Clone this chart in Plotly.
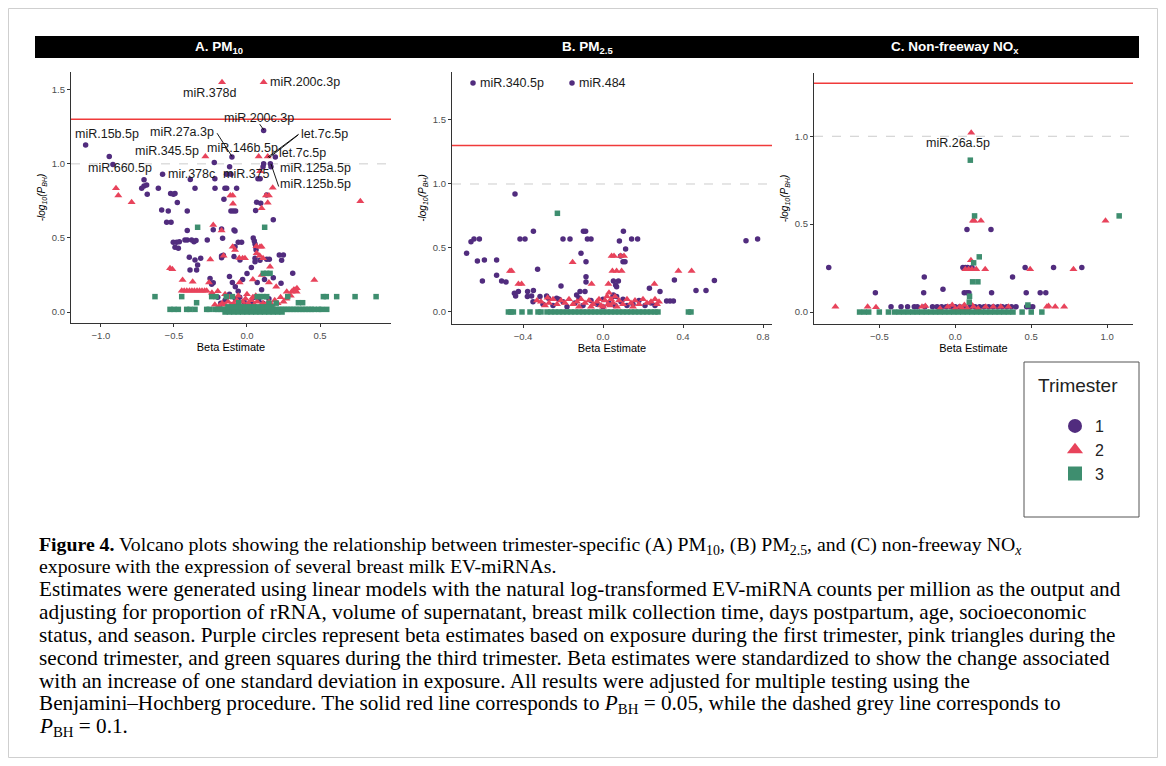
import plotly.graph_objects as go
import math

# ---------------- thresholds ----------------
P_SIG = 0.05
P_SUGG = 0.1

# ---------------- data: (beta, -log10 P_BH) ----------------
A1 = [(0.114,1.225),(-1.105,1.128),(-0.943,1.05),(-0.103,1.047),(-0.224,1.009),(0.194,1.047),
      (0.114,1.0),(0.16,1.0),(0.11,0.98),(0.164,0.98),(-0.119,0.98),(-0.918,0.995),
      (-0.578,0.93),(-0.388,0.894),(-0.22,0.90),(-0.14,0.93),(-0.11,0.93),(0.075,0.899),(0.09,0.899),
      (-0.705,0.892),(-0.705,0.851),(-0.687,0.858),(-0.721,0.836),(-0.683,0.795),(-0.607,0.836),
      (-0.523,0.80),(-0.504,0.795),(-0.493,0.80),(-0.477,0.739),(-0.409,0.682),(-0.584,0.689),(-0.539,0.682),
      (-0.55,0.606),(-0.52,0.606),(-0.356,0.836),(-0.219,0.836),(-0.151,0.836),(-0.139,0.836),(-0.071,0.836),
      (-0.158,0.761),(-0.11,0.682),(-0.094,0.682),(-0.078,0.682),(0.066,0.741),(0.094,0.734),(0.059,0.685),
      (0.135,0.79),(0.18,0.622),
      (-0.409,0.55),(-0.505,0.471),(-0.482,0.471),(-0.493,0.437),(-0.463,0.475),(-0.425,0.486),(-0.409,0.486),
      (-0.379,0.486),(-0.363,0.475),(-0.349,0.482),(-0.47,0.43),
      (-0.272,0.486),(-0.231,0.556),(-0.167,0.498),(-0.082,0.547),(-0.174,0.561),(-0.089,0.554),(-0.06,0.471),
      (-0.037,0.471),(-0.082,0.441),(0.043,0.50),(0.05,0.48),(0.055,0.46),(0.06,0.44),(0.062,0.42),
      (-0.395,0.369),(-0.356,0.351),(-0.317,0.363),(-0.338,0.318),(-0.345,0.284),(-0.39,0.284),
      (-0.174,0.378),(-0.089,0.374),(-0.048,0.351),(0.055,0.363),(0.055,0.34),(0.089,0.35),(0.135,0.356),
      (0.153,0.356),(0.221,0.385),(0.249,0.385),(0.237,0.35),
      (-0.253,0.227),(-0.231,0.198),(-0.242,0.187),(-0.162,0.383),(-0.174,0.367),(-0.12,0.24),(-0.1,0.2),
      (-0.08,0.17),(0.313,0.261),(0.18,0.232),(0.233,0.194),(0.03,0.3),(0.0,0.26),(-0.03,0.22),(0.07,0.2),
      (0.1,0.15),(0.12,0.22),
      (-0.2,0.1),(-0.15,0.08),(-0.12,0.12),(-0.08,0.09),(-0.05,0.1),(-0.02,0.07),(0.02,0.06),(0.05,0.1),
      (0.08,0.08),(0.11,0.06),(0.15,0.09),(-0.18,0.06),(-0.1,0.05),(0.0,0.04),(0.04,0.05),(-0.06,0.14)]

A2 = [(-0.171,1.55),(0.114,1.55),(-0.285,1.05),(0.08,1.05),(0.142,1.05),(0.09,0.95),
      (-0.897,0.836),(-0.881,0.786),(-0.79,0.741),(0.776,0.748),
      (-0.114,0.786),(-0.098,0.786),(-0.096,0.73),(0.13,0.786),(0.15,0.786),(0.142,0.737),(0.1,0.70),(0.176,0.838),
      (-0.231,0.588),(-0.174,0.55),
      (-0.098,0.441),(-0.082,0.419),(-0.03,0.363),(-0.014,0.363),(-0.16,0.38),(-0.053,0.365),(-0.251,0.354),
      (0.089,0.441),(0.1,0.441),(0.066,0.396),(0.11,0.363),(0.158,0.306),(0.087,0.38),(0.064,0.444),
      (-0.527,0.295),(-0.511,0.288),(-0.441,0.216),(-0.372,0.205),
      (-0.447,0.144),(-0.43,0.144),(-0.412,0.144),(-0.394,0.144),(-0.377,0.144),(-0.36,0.144),(-0.342,0.144),
      (-0.325,0.144),(-0.308,0.144),(-0.29,0.144),(-0.276,0.144),(-0.24,0.13),(-0.2,0.14),(-0.15,0.12),
      (0.272,0.137),(0.306,0.137),(0.329,0.15),(0.34,0.137),(0.461,0.216),(0.32,0.15),(0.342,0.16),
      (-0.26,0.2),(-0.05,0.2),(0.04,0.22),(0.1,0.25),(0.15,0.2),(0.2,0.17),
      (-0.22,0.05),(-0.19,0.04),(-0.17,0.06),(-0.15,0.05),(-0.13,0.07),(-0.11,0.05),(-0.09,0.06),(-0.07,0.08),
      (-0.05,0.05),(-0.03,0.07),(-0.01,0.09),(0.01,0.06),(0.03,0.08),(0.05,0.05),(0.07,0.07),(0.09,0.04),
      (0.11,0.06),(0.13,0.05),(0.15,0.07),(0.17,0.05),(0.19,0.08),(0.21,0.06),(0.23,0.1),(0.25,0.07),
      (0.27,0.09),(0.3,0.11),(-0.06,0.11),(0.0,0.12),(0.06,0.11),(-0.12,0.1),(0.12,0.1),(-0.02,0.04),
      (0.02,0.03),(0.04,0.1)]

A3 = [(-0.338,0.572),(0.121,0.572),
      (-0.63,0.104),(-0.447,0.104),(-0.242,0.104),(-0.212,0.104),(-0.142,0.104),(0.07,0.104),(0.089,0.104),
      (0.112,0.104),(0.135,0.104),(0.279,0.104),(0.523,0.104),(0.543,0.104),(0.614,0.104),(0.74,0.104),
      (0.884,0.104),(-0.1,0.104),
      (0.112,0.261),(0.135,0.261),(0.158,0.261),
      (-0.345,0.063),(-0.057,0.063),(0.352,0.063),(0.381,0.063),(0.15,0.06),(0.2,0.06),
      (-0.527,0.018),(-0.5,0.018),(-0.47,0.018),(-0.413,0.018),(-0.39,0.018),(-0.356,0.018),(-0.276,0.018),
      (-0.258,0.018),(-0.22,0.018),(-0.2,0.018),(-0.18,0.018),(-0.16,0.018),(-0.14,0.018),(-0.12,0.018),
      (-0.1,0.018),(-0.08,0.018),(-0.06,0.018),(-0.04,0.018),(-0.02,0.018),(0.0,0.018),(0.02,0.018),
      (0.04,0.018),(0.06,0.018),(0.08,0.018),(0.1,0.018),(0.12,0.018),(0.14,0.018),(0.16,0.018),(0.18,0.018),
      (0.2,0.018),(0.22,0.018),(0.24,0.018),(0.26,0.018),(0.28,0.018),(0.3,0.018),(0.32,0.018),(0.34,0.018),
      (0.36,0.018),(0.38,0.018),(0.4,0.018),(0.42,0.018),(0.44,0.018),(0.46,0.018),(0.49,0.018),(0.51,0.018),
      (0.546,0.018),
      (-0.15,0.0),(-0.12,0.0),(-0.09,0.0),(-0.06,0.0),(-0.03,0.0),(0.0,0.0),(0.03,0.0),(0.06,0.0),(0.09,0.0),
      (0.12,0.0),(0.15,0.0),(0.18,0.0),(0.21,0.0),(0.24,0.0),
      (-0.13,0.035),(-0.1,0.035),(-0.07,0.035),(-0.04,0.035),(-0.01,0.035),(0.02,0.035),(0.05,0.035),
      (0.08,0.035),(0.11,0.035),(0.14,0.035),(0.17,0.035)]

B1 = [(-0.65,1.79),(-0.155,1.79),
      (-0.44,0.922),(-0.682,0.458),(-0.66,0.549),(-0.645,0.570),(-0.618,0.570),(-0.628,0.398),(-0.593,0.406),
      (-0.603,0.242),(-0.532,0.406),(-0.532,0.286),(-0.507,0.242),(-0.485,0.234),(-0.415,0.570),(-0.39,0.570),
      (-0.348,0.63),(-0.327,0.333),
      (-0.443,0.146),(-0.437,0.125),(-0.423,0.159),(-0.377,0.159),(-0.348,0.167),(-0.378,0.12),(-0.357,0.125),
      (-0.315,0.12),(-0.282,0.125),(-0.273,0.107),(-0.232,0.107),
      (-0.21,0.203),(-0.2,0.570),(-0.165,0.570),(-0.11,0.458),(-0.098,0.63),(-0.087,0.63),(-0.085,0.393),
      (-0.085,0.276),(-0.085,0.234),(-0.078,0.570),(-0.06,0.570),(-0.115,0.159),(-0.09,0.159),(-0.132,0.133),
      (0.102,0.63),(0.082,0.555),(0.113,0.492),(0.143,0.570),(0.173,0.570),(0.088,0.438),(0.1,0.393),(0.11,0.393),
      (0.052,0.242),(0.077,0.242),(0.063,0.211),(0.068,0.198),(0.052,0.133),(0.068,0.12),
      (0.232,0.185),(0.285,0.16),(0.318,0.086),(0.335,0.086),(0.352,0.086),(0.357,0.25),(0.465,0.167),
      (0.515,0.167),(0.557,0.245),(0.715,0.557),(0.773,0.570),
      (-0.3,0.06),(-0.25,0.05),(-0.2,0.08),(-0.18,0.04),(-0.14,0.07),(-0.1,0.05),(-0.06,0.09),(-0.03,0.06),
      (0.0,0.04),(0.03,0.07),(0.06,0.05),(0.09,0.08),(0.12,0.05),(0.15,0.06),(0.18,0.09),(0.21,0.05),
      (0.24,0.07),(0.26,0.05),(-0.35,0.08),(-0.22,0.1),(0.05,0.12),(-0.12,0.11),(0.1,0.1),(0.0,0.1)]

B2 = [(-0.465,0.32),(-0.457,0.32),(-0.423,0.219),(-0.407,0.219),(-0.277,0.112),(-0.152,0.388),(-0.057,0.219),
      (0.027,0.219),(0.043,0.438),(0.055,0.438),(0.088,0.438),(0.105,0.438),(0.047,0.32),(0.068,0.32),
      (0.093,0.32),(0.257,0.219),(0.377,0.32),(0.443,0.32),
      (-0.33,0.09),(-0.31,0.08),(-0.27,0.07),(-0.25,0.1),(-0.23,0.06),(-0.21,0.09),(-0.19,0.07),(-0.17,0.1),
      (-0.15,0.06),(-0.13,0.08),(-0.11,0.1),(-0.09,0.07),(-0.07,0.09),(-0.05,0.06),(-0.03,0.08),(-0.01,0.05),
      (0.01,0.09),(0.02,0.12),(0.03,0.15),(0.04,0.1),(0.05,0.07),(0.06,0.12),(0.08,0.09),(0.1,0.06),
      (0.12,0.1),(0.14,0.07),(0.16,0.09),(0.18,0.06),(0.2,0.1),(0.22,0.07),(0.24,0.08),(0.26,0.1),
      (0.27,0.06),(0.28,0.08),(-0.29,0.05),(-0.06,0.04),(0.0,0.04),(0.07,0.04),(-0.12,0.04),(0.15,0.04),
      (0.025,0.06),(-0.02,0.1),(0.035,0.05)]

B3 = [(-0.228,0.771),
      (-0.473,0.0),(-0.46,0.0),(-0.448,0.0),(-0.405,0.0),(-0.365,0.0),(-0.325,0.0),(-0.31,0.0),
      (-0.28,0.0),(-0.26,0.0),(-0.24,0.0),(-0.22,0.0),(-0.2,0.0),(-0.18,0.0),(-0.16,0.0),(-0.14,0.0),
      (-0.12,0.0),(-0.1,0.0),(-0.08,0.0),(-0.06,0.0),(-0.04,0.0),(-0.02,0.0),(0.0,0.0),(0.02,0.0),
      (0.04,0.0),(0.06,0.0),(0.08,0.0),(0.1,0.0),(0.12,0.0),(0.14,0.0),(0.16,0.0),(0.18,0.0),(0.2,0.0),
      (0.22,0.0),(0.24,0.0),(0.26,0.0),(0.275,0.0),(0.427,0.0),(0.44,0.0)]

C1 = [(-0.833,0.254),(-0.526,0.11),(-0.423,0.03),(-0.357,0.03),(-0.314,0.03),(-0.27,0.03),(-0.204,0.2),
      (-0.208,0.11),(-0.081,0.129),(0.05,0.254),(0.066,0.254),(0.081,0.254),(0.11,0.254),(0.059,0.11),
      (0.077,0.11),(0.09,0.11),(0.077,0.47),(0.235,0.47),(0.239,0.11),(0.377,0.2),(0.46,0.254),(0.467,0.11),
      (0.559,0.11),(0.596,0.11),(0.647,0.254),(0.833,0.254),
      (-0.25,0.03),(-0.2,0.03),(-0.15,0.03),(-0.12,0.03),(-0.09,0.03),(-0.06,0.03),(-0.03,0.03),(0.0,0.03),
      (0.03,0.03),(0.06,0.03),(0.1,0.03),(0.13,0.03),(0.16,0.03),(0.19,0.03),(0.22,0.03),(0.25,0.03),
      (0.28,0.03),(0.31,0.03),(0.34,0.03),(0.37,0.03),(0.4,0.03),(0.47,0.03),(0.49,0.03),(0.51,0.03)]

C2 = [(0.105,1.02),
      (-0.789,0.03),(-0.577,0.03),(-0.522,0.027),(-0.219,0.03),(-0.197,0.035),(0.103,0.295),(0.066,0.244),
      (0.088,0.244),(0.11,0.244),(0.138,0.244),(0.197,0.244),(0.116,0.519),(0.125,0.519),(0.169,0.519),
      (0.493,0.244),(0.778,0.244),(0.989,0.519),(0.603,0.03),(0.614,0.035),(0.658,0.03),(0.717,0.03),
      (-0.1,0.02),(-0.05,0.03),(0.0,0.02),(0.03,0.03),(0.06,0.04),(0.08,0.02),(0.1,0.05),(0.12,0.03),
      (0.15,0.02),(0.2,0.03),(0.25,0.03),(0.3,0.03),(0.35,0.03),(0.045,0.02),(-0.02,0.04)]

C3 = [(0.099,0.864),(0.127,0.547),(1.079,0.547),(0.158,0.314),(0.121,0.28),(0.114,0.172),(0.149,0.172),
      (0.094,0.09),(0.092,0.057),(0.478,0.04),
      (-0.63,0.0),(-0.6,0.0),(-0.57,0.0),(-0.5,0.0),(-0.44,0.0),(-0.4,0.0),(-0.37,0.0),(-0.34,0.0),(-0.31,0.0),
      (-0.28,0.0),(-0.25,0.0),(-0.22,0.0),(-0.19,0.0),(-0.16,0.0),(-0.13,0.0),(-0.1,0.0),(-0.07,0.0),
      (-0.04,0.0),(-0.01,0.0),(0.02,0.0),(0.05,0.0),(0.08,0.0),(0.11,0.0),(0.14,0.0),(0.17,0.0),(0.2,0.0),
      (0.23,0.0),(0.26,0.0),(0.29,0.0),(0.32,0.0),(0.35,0.0),(0.38,0.0),(0.44,0.0),(0.5,0.0),(0.57,0.0)]

# labels: (text, x, y, xanchor)
A_LABELS = [("miR.200c.3p", 0.40, 1.554, "center"), ("miR.378d", -0.253, 1.48, "center"),
            ("miR.200c.3p", 0.082, 1.31, "center"), ("miR.15b.5p", -0.96, 1.20, "center"),
            ("miR.27a.3p", -0.445, 1.216, "center"), ("let.7c.5p", 0.53, 1.20, "center"),
            ("miR.345.5p", -0.546, 1.087, "center"), ("miR.146b.5p", -0.03, 1.105, "center"),
            ("let.7c.5p", 0.378, 1.074, "center"), ("miR.660.5p", -0.87, 0.97, "center"),
            ("mir.378c", -0.377, 0.93, "center"), ("miR.375", 0.0, 0.93, "center"),
            ("miR.125a.5p", 0.466, 0.97, "center"), ("miR.125b.5p", 0.466, 0.865, "center")]
A_LEADERS = [(-0.205, 1.207, -0.103, 1.05), (0.354, 1.2, 0.142, 1.045), (0.35, 1.195, 0.15, 1.04),
             (0.087, 1.268, 0.114, 1.23), (0.164, 1.0, 0.217, 0.847)]
B_LABELS = [("miR.340.5p", -0.625, 1.79, "left"), ("miR.484", -0.13, 1.79, "left")]
C_LABELS = [("miR.26a.5p", 0.02, 0.96, "center")]

TITLES = ["A. PM<sub>10</sub>", "B. PM<sub>2.5</sub>", "C. Non-freeway NO<sub>x</sub>"]
X_TICKS = [[-1.0, -0.5, 0.0, 0.5], [-0.4, 0.0, 0.4, 0.8], [-0.5, 0.0, 0.5, 1.0]]
Y_TICKS = [[0.0, 0.5, 1.0, 1.5], [0.0, 0.5, 1.0, 1.5], [0.0, 0.5, 1.0]]
X_RANGES = [[-1.205, 0.986], [-0.755, 0.845], [-0.93, 1.17]]
Y_RANGES = [[-0.074, 1.62], [-0.094, 1.875], [-0.068, 1.36]]

# ---------------- layout geometry (screen pixels; page body has an 8px margin) ----------------
OFF = 8
W, H = 1150, 750
def px(x): return (x - OFF) / W
def py(y): return 1 - (y - OFF) / H

X_DOM = [(71, 391), (452, 772), (814, 1133)]
Y_DOM = [(72, 323), (72, 324), (73, 324)]
STRIPS = [(35, 403), (403, 771), (771, 1139)]

PURPLE = "#512C7E"
PINK = "#E8435B"
GREEN = "#3E8E6F"
FONT = "Liberation Sans, Arial, sans-serif"

fig = go.Figure()

panels = [(A1, A2, A3), (B1, B2, B3), (C1, C2, C3)]
styles = [("circle", PURPLE, 5.5), ("triangle-up", PINK, 7), ("square", GREEN, 5.5)]

for i, series in enumerate(panels):
    xa = "x" if i == 0 else f"x{i+1}"
    ya = "y" if i == 0 else f"y{i+1}"
    for data, (sym, col, sz) in zip(series, styles):
        xs = [d[0] for d in data]
        ys = [d[1] for d in data]
        fig.add_trace(go.Scatter(x=xs, y=ys, mode="markers", xaxis=xa, yaxis=ya,
                                 marker=dict(symbol=sym, color=col, size=sz, line=dict(width=0)),
                                 showlegend=False, hoverinfo="skip"))

# leader lines (panel A)
lx, ly = [], []
for x0, y0, x1, y1 in A_LEADERS:
    lx += [x0, x1, None]
    ly += [y0, y1, None]
fig.add_trace(go.Scatter(x=lx, y=ly, mode="lines", line=dict(color="black", width=0.9),
                         xaxis="x", yaxis="y", showlegend=False, hoverinfo="skip"))

# legend entries
for name, (sym, col, sz) in zip(["1", "2", "3"], styles):
    fig.add_trace(go.Scatter(x=[None], y=[None], mode="markers", name=name, xaxis="x", yaxis="y",
                             marker=dict(symbol=sym, color=col, size=14), showlegend=True))

layout = dict(width=W, height=H, margin=dict(l=0, r=0, t=0, b=0),
              paper_bgcolor="white", plot_bgcolor="white",
              font=dict(family=FONT, color="black"))

shapes = []
annotations = []
for i in range(3):
    sx = "" if i == 0 else str(i + 1)
    axis_common = dict(showline=True, linecolor="#333333", linewidth=1.3, ticks="outside", ticklen=3,
                       tickcolor="#333333", tickwidth=1, showgrid=False, zeroline=False,
                       tickfont=dict(size=9.5, color="#4D4D4D", family=FONT), tickformat=".1f")
    layout["xaxis" + sx] = dict(domain=[px(X_DOM[i][0]), px(X_DOM[i][1])], range=X_RANGES[i],
                                anchor="y" + sx, tickvals=X_TICKS[i],
                                title=dict(text="Beta Estimate", font=dict(size=11, color="black"), standoff=2),
                                **axis_common)
    layout["yaxis" + sx] = dict(domain=[py(Y_DOM[i][1]), py(Y_DOM[i][0])], range=Y_RANGES[i],
                                anchor="x" + sx, tickvals=Y_TICKS[i],
                                title=dict(text="<i>-log<sub>10</sub>(P<sub>BH</sub>)</i>",
                                           font=dict(size=10, color="black"), standoff=4),
                                **axis_common)
    # threshold lines
    shapes.append(dict(type="line", xref=f"x{sx} domain", yref="y" + sx, x0=0, x1=1,
                       y0=-math.log10(P_SIG), y1=-math.log10(P_SIG),
                       line=dict(color="#F03A3A", width=1.5), layer="below"))
    shapes.append(dict(type="line", xref=f"x{sx} domain", yref="y" + sx, x0=0, x1=1,
                       y0=-math.log10(P_SUGG), y1=-math.log10(P_SUGG),
                       line=dict(color="#CCCCCC", width=1, dash="dash"), layer="below"))
    # strip header
    shapes.append(dict(type="rect", xref="paper", yref="paper", x0=px(STRIPS[i][0]), x1=px(STRIPS[i][1]),
                       y0=py(58), y1=py(36), fillcolor="black", line=dict(width=0)))
    annotations.append(dict(text=f"<b>{TITLES[i]}</b>", xref="paper", yref="paper",
                            x=px((STRIPS[i][0] + STRIPS[i][1]) / 2), y=py(47), showarrow=False,
                            font=dict(size=13.5, color="white", family=FONT), xanchor="center", yanchor="middle"))

for i, labels in enumerate([A_LABELS, B_LABELS, C_LABELS]):
    sx = "" if i == 0 else str(i + 1)
    for text, x, y, anc in labels:
        annotations.append(dict(text=text, x=x, y=y, xref="x" + sx, yref="y" + sx, showarrow=False,
                                xanchor=anc, yanchor="middle", font=dict(size=12.5, color="#1a1a1a", family=FONT)))

# legend box + title
shapes.append(dict(type="rect", xref="paper", yref="paper", x0=px(1024), x1=px(1139), y0=py(517), y1=py(362),
                   line=dict(color="#555555", width=1), fillcolor="rgba(0,0,0,0)"))
annotations.append(dict(text="Trimester", xref="paper", yref="paper", x=px(1078), y=py(385), showarrow=False,
                        xanchor="center", yanchor="middle", font=dict(size=19, color="#222222", family=FONT)))
# outer border
shapes.append(dict(type="rect", xref="paper", yref="paper", x0=px(8.5), x1=px(1157.5), y0=py(757.5), y1=py(8.5),
                   line=dict(color="#CFCFCF", width=1), fillcolor="rgba(0,0,0,0)"))

layout["legend"] = dict(x=px(1055), y=py(409), xanchor="left", yanchor="top",
                        font=dict(size=16, color="#222222", family=FONT), itemsizing="trace",
                        bgcolor="rgba(0,0,0,0)", borderwidth=0)

# caption
SERIF = "Liberation Serif, Times New Roman, serif"
CAPTION = [
    "<b>Figure 4.</b> Volcano plots showing the relationship between trimester-specific (A) PM<sub>10</sub>, (B) PM<sub>2.5</sub>, and (C) non-freeway NO<sub><i>x</i></sub>",
    "exposure with the expression of several breast milk EV-miRNAs.",
    "Estimates were generated using linear models with the natural log-transformed EV-miRNA counts per million as the output and",
    "adjusting for proportion of rRNA, volume of supernatant, breast milk collection time, days postpartum, age, socioeconomic",
    "status, and season. Purple circles represent beta estimates based on exposure during the first trimester, pink triangles during the",
    "second trimester, and green squares during the third trimester. Beta estimates were standardized to show the change associated",
    "with an increase of one standard deviation in exposure. All results were adjusted for multiple testing using the",
    "Benjamini–Hochberg procedure. The solid red line corresponds to <i>P</i><sub>BH</sub> = 0.05, while the dashed grey line corresponds to",
    "<i>P</i><sub>BH</sub> = 0.1.",
]
CAP_SIZE = [19.8, 19.8, 21.2, 21.2, 21.2, 21.2, 21.2, 21.2, 21.2]
CAP_Y = [545, 566, 589, 612, 635, 658, 681, 704, 727]
for t, yy, fs in zip(CAPTION, CAP_Y, CAP_SIZE):
    annotations.append(dict(text=t, xref="paper", yref="paper", x=px(37), y=py(yy), xanchor="left",
                            yanchor="middle", showarrow=False, font=dict(size=fs, color="black", family=SERIF)))

layout["shapes"] = shapes
layout["annotations"] = annotations
fig.update_layout(**layout)
fig.write_html("out.html")
